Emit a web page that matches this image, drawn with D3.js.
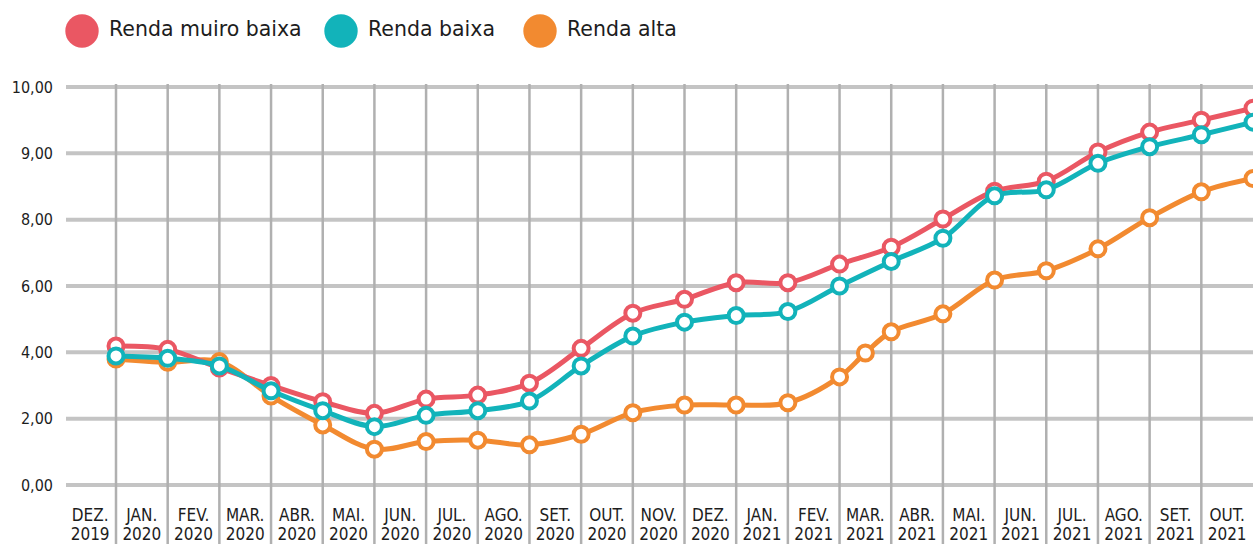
<!DOCTYPE html>
<html><head><meta charset="utf-8">
<script src="https://cdn.jsdelivr.net/npm/d3@7"></script>
<style>
html,body{margin:0;padding:0;background:#fff;}
svg{display:block;}
text{fill:#1d1d1d;}
.cond{font-family:"DejaVu Sans Condensed","DejaVu Sans",sans-serif;font-stretch:condensed;}
.leg{font-family:"DejaVu Sans",sans-serif;}
</style></head>
<body>
<svg id="chart" width="1253" height="544"></svg>
<script>
const months = ["DEZ.","JAN.","FEV.","MAR.","ABR.","MAI.","JUN.","JUL.","AGO.","SET.","OUT.","NOV.",
                "DEZ.","JAN.","FEV.","MAR.","ABR.","MAI.","JUN.","JUL.","AGO.","SET.","OUT."];
const years = ["2019","2020","2020","2020","2020","2020","2020","2020","2020","2020","2020","2020",
               "2020","2021","2021","2021","2021","2021","2021","2021","2021","2021","2021"];
const yTicks = [0, 2, 4, 6, 8, 9, 10];

const seriesNames = ["Renda muiro baixa", "Renda baixa", "Renda alta"];

const rendaMuitoBaixa = [4.19,4.09,3.53,3.00,2.51,2.16,2.59,2.71,3.07,4.12,5.18,5.60,
                         6.10,6.10,6.66,7.17,8.01,8.43,8.58,9.02,9.32,9.50,9.68];
const rendaBaixa = [3.89,3.82,3.59,2.84,2.24,1.76,2.10,2.24,2.53,3.59,4.49,4.91,
                    5.11,5.23,6.00,6.74,7.44,8.36,8.45,8.85,9.10,9.28,9.47];
// Renda alta has one extra point between FEV. 2021 and MAR. 2021
const rendaAltaIndex = [0,1,2,3,4,5,6,7,8,9,10,11,12,13,14,14.5,15,16,17,18,19,20,21,22];
const rendaAlta = [3.80,3.70,3.72,2.68,1.81,1.08,1.31,1.35,1.21,1.53,2.18,2.41,
                   2.41,2.48,3.26,3.98,4.62,5.16,6.18,6.46,7.12,8.03,8.42,8.62];

const colors = ["#EA5763", "#12B3BA", "#F28A30"];

const W = 1253, H = 544;
const svg = d3.select("#chart");

const plotTop = 87, plotBottom = 485, gridLeft = 66;
const x = d3.scaleLinear().domain([0, months.length - 1]).range([116, W]);
const step = x(1) - x(0);
const y = d3.scaleLinear()
  .domain(yTicks)
  .range(yTicks.map((d, i) => plotBottom - i * (plotBottom - plotTop) / (yTicks.length - 1)));

const fmt = v => d3.format(".2f")(v).replace(".", ",");

// horizontal gridlines
svg.append("g").selectAll("line").data(yTicks).join("line")
  .attr("x1", gridLeft).attr("x2", W)
  .attr("y1", d => y(d)).attr("y2", d => y(d))
  .attr("stroke", "#c4c4c4").attr("stroke-width", 4);

// vertical gridlines
svg.append("g").selectAll("line").data(d3.range(months.length - 1)).join("line")
  .attr("x1", d => x(d)).attr("x2", d => x(d))
  .attr("y1", plotTop - 3).attr("y2", H)
  .attr("stroke", "#b0b0b0").attr("stroke-width", 2.5);

// y labels
svg.append("g").selectAll("text").data(yTicks).join("text")
  .attr("class", "cond")
  .attr("x", 53).attr("y", d => y(d)).attr("dy", "0.36em")
  .attr("text-anchor", "end").attr("font-size", 16)
  .text(fmt);

// x labels (month + year)
const xg = svg.append("g");
xg.selectAll("text.m").data(months).join("text")
  .attr("class", "cond m").attr("text-anchor", "middle").attr("font-size", 17)
  .attr("x", (d, i) => x(i) - step / 2).attr("y", 520.5).text(d => d);
xg.selectAll("text.yr").data(years).join("text")
  .attr("class", "cond yr").attr("text-anchor", "middle").attr("font-size", 17)
  .attr("x", (d, i) => x(i) - step / 2).attr("y", 539.5).text(d => d);

// series
const series = [
  {name: seriesNames[2], color: colors[2], pts: rendaAlta.map((v, k) => [rendaAltaIndex[k], v])},
  {name: seriesNames[0], color: colors[0], pts: rendaMuitoBaixa.map((v, k) => [k, v])},
  {name: seriesNames[1], color: colors[1], pts: rendaBaixa.map((v, k) => [k, v])}
];
const line = d3.line().x(d => x(d[0])).y(d => y(d[1])).curve(d3.curveCatmullRom.alpha(0.5));

series.forEach(s => {
  const g = svg.append("g");
  g.append("path").datum(s.pts).attr("d", line)
    .attr("fill", "none").attr("stroke", s.color).attr("stroke-width", 5)
    .attr("stroke-linejoin", "round");
  g.selectAll("circle").data(s.pts).join("circle")
    .attr("cx", d => x(d[0])).attr("cy", d => y(d[1])).attr("r", 7.5)
    .attr("fill", "#fff").attr("stroke", s.color).attr("stroke-width", 4);
});

// legend
const legendX = [82, 341, 540];
const lg = svg.append("g").selectAll("g").data(seriesNames).join("g")
  .attr("transform", (d, i) => `translate(${legendX[i]},31)`);
lg.append("circle").attr("r", 16.7).attr("fill", (d, i) => colors[i]);
lg.append("text").attr("class", "leg").attr("x", 27).attr("y", 5)
  .attr("font-size", 20.5).text(d => d);
</script>
</body></html>
